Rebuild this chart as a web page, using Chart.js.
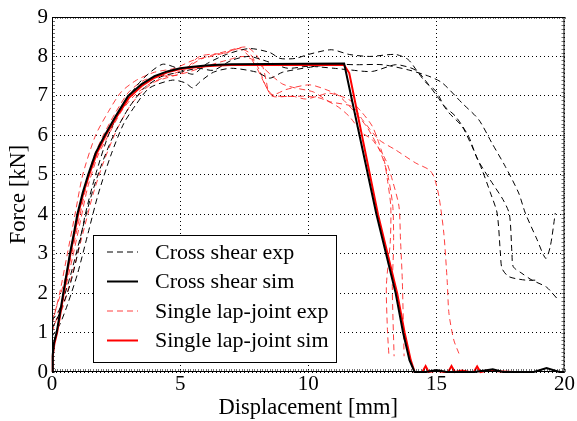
<!DOCTYPE html>
<html>
<head>
<meta charset="utf-8">
<script src="https://cdn.jsdelivr.net/npm/chart.js@4/dist/chart.umd.min.js"></script>
<style>
  html, body { margin: 0; padding: 0; background: #fff; }
  #chart { display: block; }
</style>
</head>
<body>
<canvas id="chart" width="577" height="421"></canvas>
<script>
// tick values
const xTicks = [0, 5, 10, 15, 20];
const yTicks = [0, 1, 2, 3, 4, 5, 6, 7, 8, 9];

const legendLabels = ["Cross shear exp", "Cross shear sim", "Single lap-joint exp", "Single lap-joint sim"];

// cross shear, simulation
const crossSimX = [0, 0.03, 0.08, 0.18, 0.3, 0.44, 0.57, 0.70, 0.85, 0.99, 1.2, 1.41, 1.7, 2.06, 2.5, 2.97, 3.5, 4.0, 4.5, 5.0, 5.5, 6.0, 6.5, 7.0, 11.4, 12.66, 13.41, 13.7, 13.95, 14.15, 14.6, 15.0, 15.4, 16.5, 17.2, 17.6, 18.8, 19.3, 19.8, 20];
const crossSimY = [0, 0.45, 0.75, 1.0, 1.45, 2.0, 2.5, 3.0, 3.5, 4.0, 4.55, 5.0, 5.55, 6.0, 6.5, 7.0, 7.3, 7.5, 7.62, 7.7, 7.74, 7.77, 7.79, 7.8, 7.82, 4.0, 2.0, 1.0, 0.3, 0.0, 0.0, 0.05, 0.0, 0.0, 0.07, 0.0, 0.0, 0.1, 0.0, 0.0];

// single lap-joint, simulation
const lapSimX = [0, 0.03, 0.09, 0.2, 0.32, 0.46, 0.59, 0.72, 0.87, 1.02, 1.23, 1.45, 1.75, 2.1, 2.55, 3.0, 3.5, 4.0, 4.5, 5.0, 5.5, 6.0, 6.5, 7.0, 11.4, 11.6, 12.72, 13.47, 13.76, 14.0, 14.15, 14.45, 14.58, 14.7, 15.0, 15.3, 15.46, 15.59, 15.72, 16.0, 16.3, 16.46, 16.59, 16.72, 17.0, 17.2, 17.4, 18.0];
const lapSimY = [0, 0.4, 0.7, 1.0, 1.45, 2.0, 2.5, 3.0, 3.5, 4.0, 4.55, 5.0, 5.55, 6.0, 6.5, 6.95, 7.25, 7.46, 7.6, 7.68, 7.72, 7.75, 7.77, 7.78, 7.78, 7.58, 4.0, 2.0, 1.0, 0.3, 0.0, 0.0, 0.15, 0.0, 0.03, 0.0, 0.0, 0.15, 0.0, 0.04, 0.0, 0.0, 0.14, 0.0, 0.04, 0.05, 0.02, 0.0];

// cross shear, experiments
const crossExp1X = [0, 0.3, 0.7, 1.0, 1.3, 1.7, 2.2, 2.8, 3.5, 4.3, 4.9, 5.5, 6.0, 6.8, 7.7, 8.5, 8.9, 9.5, 10.0, 10.9, 11.6, 12.4, 13.4, 13.9, 14.3, 14.6, 15.0, 15.3, 15.75, 16.26, 16.6, 17.1, 17.6, 17.85, 17.95, 18.0, 18.34, 18.73, 19.3, 19.7];
const crossExp1Y = [1.1, 1.5, 2.2, 3.0, 4.0, 5.0, 6.0, 6.8, 7.4, 7.8, 7.7, 7.55, 7.8, 8.05, 8.2, 8.1, 7.95, 7.95, 8.05, 8.17, 8.05, 8.0, 8.05, 7.92, 7.58, 7.33, 7.11, 6.75, 6.48, 5.97, 5.4, 4.87, 4.37, 4.0, 3.0, 2.67, 2.5, 2.33, 2.15, 1.87];
const crossExp2X = [0, 0.3, 0.6, 1.0, 1.4, 1.8, 2.3, 2.8, 3.3, 3.8, 4.7, 5.2, 5.5, 5.76, 6.3, 7.0, 8.0, 8.5, 9.0, 10.0, 11.0, 11.85, 12.9, 13.9, 14.7, 15.23, 16.0, 16.65, 17.17, 17.69, 18.21, 18.47, 18.9, 19.27, 19.45, 19.64];
const crossExp2Y = [0.9, 1.2, 1.7, 2.5, 3.5, 4.5, 5.5, 6.3, 6.8, 7.2, 7.4, 7.33, 7.2, 7.35, 7.6, 7.7, 7.6, 7.45, 7.6, 7.72, 7.8, 7.79, 7.79, 7.66, 7.5, 7.33, 6.82, 6.4, 5.8, 5.21, 4.54, 4.03, 3.4, 2.88, 3.2, 4.03];
const crossExp3X = [0, 0.3, 0.7, 1.1, 1.5, 1.9, 2.4, 3.0, 3.6, 4.3, 5.0, 5.7, 6.3, 7.0, 7.7, 8.5, 9.2, 10.0, 11.0, 11.6, 12.5, 13.4, 14.0, 14.32, 15.03, 15.49, 16.0, 16.39, 16.78, 17.11, 17.37, 17.5, 17.56, 17.82, 18.47, 19.0];
const crossExp3Y = [1.3, 1.6, 2.4, 3.4, 4.4, 5.2, 6.0, 6.7, 7.2, 7.5, 7.6, 7.7, 7.65, 7.9, 8.0, 7.85, 7.7, 7.75, 7.7, 7.66, 7.62, 7.79, 7.71, 7.59, 6.99, 6.57, 6.23, 5.72, 5.13, 4.54, 4.03, 3.0, 2.63, 2.42, 2.33, 2.33];

// single lap-joint, experiments
const lapExp1X = [0, 0.3, 0.6, 0.9, 1.2, 1.7, 2.2, 2.7, 3.3, 4.0, 4.8, 5.5, 6.2, 6.8, 7.3, 7.7, 8.0, 8.35, 8.6, 9.4, 9.9, 10.4, 10.82, 11.6, 12.11, 12.5, 12.76, 12.96, 13.09, 13.22, 13.2, 13.05, 13.09, 13.15];
const lapExp1Y = [1.2, 2.0, 3.0, 4.0, 5.0, 6.0, 6.6, 7.1, 7.4, 7.6, 7.7, 7.9, 8.0, 8.1, 8.2, 8.0, 7.7, 7.24, 6.99, 6.99, 6.92, 7.0, 7.07, 6.9, 6.57, 6.23, 5.8, 5.38, 4.87, 4.2, 3.3, 2.2, 1.07, 0.4];
const lapExp2X = [0, 0.4, 0.8, 1.1, 1.4, 1.8, 2.2, 2.7, 3.2, 3.8, 4.5, 5.1, 5.9, 6.8, 7.57, 7.96, 8.22, 8.35, 8.48, 8.87, 9.77, 10.43, 11.1, 11.6, 12.11, 12.5, 13.02, 13.28, 13.54, 13.6, 13.67, 13.74];
const lapExp2Y = [1.0, 1.8, 2.9, 3.8, 4.7, 5.5, 6.0, 6.6, 7.0, 7.3, 7.5, 7.66, 7.96, 8.13, 8.24, 8.05, 7.75, 7.41, 7.07, 6.99, 6.99, 6.95, 6.75, 6.48, 6.06, 5.89, 5.38, 4.87, 4.2, 3.35, 2.33, 0.4];
const lapExp3X = [0, 0.3, 0.7, 1.0, 1.3, 1.6, 2.0, 2.5, 3.0, 3.6, 4.3, 5.0, 5.76, 6.8, 7.3, 7.7, 8.09, 8.35, 8.61, 9.13, 10.04, 10.69, 11.2, 11.8, 12.3, 12.8, 13.1, 13.3, 13.33, 13.28, 13.35];
const lapExp3Y = [1.3, 1.9, 2.8, 3.7, 4.6, 5.4, 6.0, 6.6, 7.1, 7.4, 7.5, 7.55, 8.0, 8.09, 8.2, 8.09, 7.66, 7.24, 7.03, 7.16, 7.28, 7.16, 7.0, 6.6, 6.2, 5.6, 5.0, 4.2, 3.2, 2.17, 0.4];
const lapExp4X = [0, 0.4, 0.8, 1.2, 1.6, 2.0, 2.5, 3.0, 3.5, 4.0, 4.7, 5.3, 6.0, 6.8, 7.5, 8.0, 8.6, 9.0, 9.5, 10.2, 10.82, 11.72, 12.11, 12.76, 13.41, 14.19, 14.71, 14.9, 15.1, 15.29, 15.42, 15.49, 15.68, 15.88];
const lapExp4Y = [1.1, 1.6, 2.5, 3.5, 4.5, 5.3, 6.1, 6.7, 7.1, 7.35, 7.5, 7.6, 7.75, 7.9, 8.0, 7.85, 7.5, 7.3, 7.2, 7.1, 6.86, 6.73, 6.4, 5.89, 5.63, 5.3, 5.13, 4.96, 4.45, 3.52, 2.33, 1.49, 0.81, 0.47];

const RED = "#ff0000";
const RED_DASH = "rgba(255, 30, 30, 0.85)";
const FONT = "'Liberation Serif', 'Times New Roman', serif";

function pts(xs, ys) {
  return xs.map((x, i) => ({ x: x, y: ys[i] }));
}

function expSet(label, xs, ys, color) {
  return {
    label: label,
    data: pts(xs, ys),
    borderColor: color,
    borderWidth: 1,
    borderDash: [6, 4],
    pointRadius: 0,
    tension: 0.25,
    fill: false,
    order: 3,
  };
}

var datasets = [
  expSet(legendLabels[0], crossExp1X, crossExp1Y, "#000"),
  expSet(legendLabels[0], crossExp2X, crossExp2Y, "#000"),
  expSet(legendLabels[0], crossExp3X, crossExp3Y, "#000"),
  expSet(legendLabels[2], lapExp1X, lapExp1Y, RED_DASH),
  expSet(legendLabels[2], lapExp2X, lapExp2Y, RED_DASH),
  expSet(legendLabels[2], lapExp3X, lapExp3Y, RED_DASH),
  expSet(legendLabels[2], lapExp4X, lapExp4Y, RED_DASH),
  {
    label: legendLabels[3],
    data: pts(lapSimX, lapSimY),
    borderColor: RED,
    borderWidth: 2,
    pointRadius: 0,
    tension: 0,
    clip: 4,
    order: 2,
  },
  {
    label: legendLabels[1],
    data: pts(crossSimX, crossSimY),
    borderColor: "#000",
    borderWidth: 2,
    pointRadius: 0,
    tension: 0,
    clip: 4,
    order: 1,
  },
];

// frame, minor ticks and the legend box inside the plot
const framePlugin = {
  id: "frame",
  afterDatasetsDraw(chart) {
    const ctx = chart.ctx;
    const a = chart.chartArea;
    const xs = chart.scales.x, ys = chart.scales.y;
    ctx.save();
    ctx.strokeStyle = "#000";
    ctx.lineWidth = 1;
    ctx.setLineDash([]);
    ctx.strokeRect(a.left + 0.5, a.top + 0.5, a.right - a.left - 1, a.bottom - a.top - 1);

    // minor ticks
    ctx.strokeStyle = "rgba(0,0,0,0.55)";
    ctx.beginPath();
    for (let v = 0; v <= 20.001; v += 0.1) {
      const p = Math.round(xs.getPixelForValue(v)) + 0.5;
      ctx.moveTo(p, a.bottom); ctx.lineTo(p, a.bottom - 3);
      ctx.moveTo(p, a.top); ctx.lineTo(p, a.top + 2);
    }
    for (let v = 0; v <= 9.001; v += 0.1) {
      const p = Math.round(ys.getPixelForValue(v)) + 0.5;
      ctx.moveTo(a.left, p); ctx.lineTo(a.left + 3, p);
      ctx.moveTo(a.right, p); ctx.lineTo(a.right - 3, p);
    }
    ctx.stroke();

    // legend
    const box = { x: a.left + 41, y: a.top + 218, w: 243, h: 127 };
    ctx.fillStyle = "#fff";
    ctx.fillRect(box.x, box.y, box.w, box.h);
    ctx.strokeStyle = "#000";
    ctx.lineWidth = 1;
    ctx.strokeRect(box.x + 0.5, box.y + 0.5, box.w, box.h);

    const styles = [
      { color: "#000", width: 1, dash: [6, 4] },
      { color: "#000", width: 2, dash: [] },
      { color: RED_DASH, width: 1, dash: [6, 4] },
      { color: RED, width: 2, dash: [] },
    ];
    ctx.font = "22px " + FONT;
    ctx.textBaseline = "middle";
    ctx.textAlign = "left";
    legendLabels.forEach((lab, i) => {
      const yy = box.y + 17 + i * 29.5;
      const s = styles[i];
      ctx.beginPath();
      ctx.strokeStyle = s.color;
      ctx.lineWidth = s.width;
      ctx.setLineDash(s.dash);
      ctx.moveTo(box.x + 14, yy);
      ctx.lineTo(box.x + 45, yy);
      ctx.stroke();
      ctx.setLineDash([]);
      ctx.fillStyle = "#000";
      ctx.fillText(lab, box.x + 62, yy + 1);
    });
    ctx.restore();
  },
};

var ctx = document.getElementById("chart").getContext("2d");
var chart = new Chart(ctx, {
  type: "line",
  data: { datasets: datasets },
  plugins: [framePlugin],
  options: {
    responsive: false,
    animation: false,
    devicePixelRatio: 1,
    layout: { padding: { top: 17, right: 11, left: 0, bottom: 0 } },
    plugins: {
      legend: { display: false },
      tooltip: { enabled: false },
    },
    scales: {
      x: {
        type: "linear",
        min: 0,
        max: 20,
        afterBuildTicks: (s) => { s.ticks = xTicks.map((v) => ({ value: v })); },
        afterFit: (s) => { s.height = 49; },
        grid: { color: "#000", lineWidth: 1, drawTicks: false },
        border: { display: false, dash: [1, 3] },
        ticks: {
          color: "#000",
          padding: 2,
          maxRotation: 0,
          font: { family: FONT, size: 21, lineHeight: 1 },
        },
        title: {
          display: true,
          text: "Displacement [mm]",
          color: "#000",
          padding: { top: 0, bottom: 1 },
          font: { family: FONT, size: 22.5, lineHeight: 1.1 },
        },
      },
      y: {
        type: "linear",
        min: 0,
        max: 9,
        afterBuildTicks: (s) => { s.ticks = yTicks.map((v) => ({ value: v })); },
        afterFit: (s) => { s.width = 52; },
        grid: { color: "#000", lineWidth: 1, drawTicks: false },
        border: { display: false, dash: [1, 3] },
        ticks: {
          color: "#000",
          padding: 4,
          font: { family: FONT, size: 21, lineHeight: 1 },
        },
        title: {
          display: true,
          text: "Force [kN]",
          color: "#000",
          padding: { top: 7, bottom: 0 },
          font: { family: FONT, size: 22.5, lineHeight: 1.1 },
        },
      },
    },
  },
});
</script>
</body>
</html>
